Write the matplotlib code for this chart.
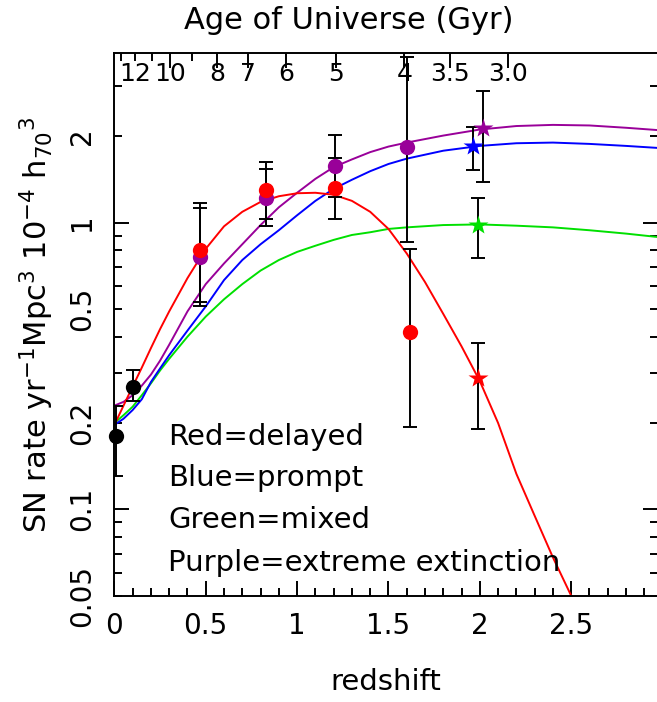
import numpy as np
import matplotlib.pyplot as plt
from matplotlib.ticker import FixedLocator, FixedFormatter, NullFormatter

# ---------- model curves (redshift, SN rate) ----------
z_model = [0.0, 0.05, 0.1, 0.15, 0.2, 0.25, 0.3, 0.4, 0.5, 0.6, 0.7, 0.8, 0.9,
           1.0, 1.1, 1.2, 1.3, 1.4, 1.5, 1.6, 1.8, 2.0, 2.2, 2.4, 2.6, 2.8, 2.975]
blue_rate = [0.197, 0.207, 0.222, 0.242, 0.278, 0.31, 0.345, 0.42, 0.51, 0.63, 0.74, 0.84, 0.94,
             1.06, 1.19, 1.31, 1.41, 1.51, 1.60, 1.67, 1.78, 1.85, 1.89, 1.90, 1.88, 1.85, 1.82]
green_rate = [0.20, 0.213, 0.228, 0.25, 0.275, 0.305, 0.335, 0.40, 0.47, 0.54, 0.61, 0.68, 0.74,
              0.79, 0.83, 0.87, 0.905, 0.925, 0.95, 0.962, 0.98, 0.985, 0.975, 0.962, 0.94, 0.915, 0.89]
purple_rate = [0.23, 0.237, 0.25, 0.27, 0.295, 0.33, 0.375, 0.49, 0.61, 0.72, 0.84, 0.98, 1.13,
               1.27, 1.42, 1.56, 1.66, 1.76, 1.84, 1.90, 2.01, 2.11, 2.17, 2.19, 2.18, 2.14, 2.10]

z_red = [0.0, 0.05, 0.1, 0.15, 0.2, 0.25, 0.3, 0.4, 0.5, 0.6, 0.7, 0.8, 0.9, 1.0, 1.1, 1.2,
         1.3, 1.4, 1.5, 1.6, 1.7, 1.8, 1.9, 2.0, 2.1, 2.2, 2.3, 2.4, 2.52]
red_rate = [0.197, 0.23, 0.268, 0.312, 0.365, 0.425, 0.49, 0.64, 0.81, 0.97, 1.09, 1.18, 1.235, 1.265,
            1.27, 1.25, 1.19, 1.09, 0.95, 0.78, 0.62, 0.48, 0.37, 0.28, 0.20, 0.133, 0.095, 0.068, 0.047]

# ---------- data points ----------
# local rates (black)
z_local = [0.01, 0.1]
rate_local = [0.18, 0.267]
lo_local = [0.131, 0.239]
hi_local = [0.229, 0.307]

# red = delayed
z_red_pts = [0.47, 0.83, 1.21, 1.62]
rate_red_pts = [0.80, 1.30, 1.32, 0.416]
lo_red_pts = [0.51, 1.03, 1.03, 0.194]
hi_red_pts = [1.17, 1.62, 1.68, 0.81]

# purple = extreme extinction
z_pur_pts = [0.47, 0.83, 1.21, 1.60]
rate_pur_pts = [0.76, 1.22, 1.57, 1.83]
lo_pur_pts = [0.53, 0.976, 1.23, 0.852]
hi_pur_pts = [1.12, 1.54, 2.02, 3.77]

# z ~ 2 stars
z_star = [1.99, 1.96, 1.99, 2.02]
rate_star = [0.286, 1.85, 0.984, 2.13]
lo_star = [0.19, 1.52, 0.753, 1.39]
hi_star = [0.38, 2.15, 1.215, 2.87]
star_colors = ['#ff0000', '#0000ff', '#00e000', '#990099']

# ---------- top axis: age of universe ----------
age_major = [10, 8, 7, 6, 5, 4, 3.5, 3.0]
age_minor = [13, 12, 11, 9]
age_labelled = [12, 10, 8, 7, 6, 5, 4, 3.5, 3.0]
age_labels = ['12', '10', '8', '7', '6', '5', '4', '3.5', '3.0']

legend_lines = ['Red=delayed', 'Blue=prompt', 'Green=mixed', 'Purple=extreme extinction']

y_major = [0.1, 1]
y_minor = [0.05, 0.06, 0.07, 0.08, 0.09, 0.2, 0.3, 0.4, 0.5, 0.6, 0.7, 0.8, 0.9, 2, 3]
y_minor_labels = ['0.05', '', '', '', '', '0.2', '', '', '0.5', '', '', '', '', '2', '']

RED, BLUE, GREEN, PURPLE = '#ff0000', '#0000ff', '#00e000', '#990099'


def age_to_z(t, h0=70.0, om=0.3):
    # flat LCDM, age in Gyr
    ol = 1.0 - om
    th = 977.8 / h0
    x = np.sinh(np.asarray(t) * 1.5 * np.sqrt(ol) / th)
    return (np.sqrt(ol / om) / x) ** (2.0 / 3.0) - 1.0


plt.rcParams['font.family'] = 'DejaVu Sans'
plt.rcParams['mathtext.fontset'] = 'dejavusans'

fig = plt.figure(figsize=(6.57, 7.02), dpi=100)
ax = fig.add_axes([0.1741, 0.1514, 0.8274, 0.7731])
ax.set_yscale('log')
ax.set_xlim(0, 2.975)
ax.set_ylim(0.05, 3.9)

lw = 1.4
ax.plot(z_model, green_rate, color=GREEN, lw=lw, zorder=2)
ax.plot(z_model, blue_rate, color=BLUE, lw=lw, zorder=2)
ax.plot(z_model, purple_rate, color=PURPLE, lw=lw, zorder=2)
ax.plot(z_red, red_rate, color=RED, lw=lw, zorder=2)


def err(rate, lo, hi):
    r = np.array(rate)
    return [r - np.array(lo), np.array(hi) - r]


eb = dict(fmt='none', ecolor='black', elinewidth=1.4, capsize=5, capthick=1.4, zorder=3)
ax.errorbar(z_local, rate_local, yerr=err(rate_local, lo_local, hi_local), **eb)
ax.errorbar(z_pur_pts, rate_pur_pts, yerr=err(rate_pur_pts, lo_pur_pts, hi_pur_pts), **eb)
ax.errorbar(z_red_pts, rate_red_pts, yerr=err(rate_red_pts, lo_red_pts, hi_red_pts), **eb)
ax.errorbar(z_star, rate_star, yerr=err(rate_star, lo_star, hi_star), **eb)

ax.plot(z_pur_pts, rate_pur_pts, 'o', color=PURPLE, ms=11, mec='none', zorder=4)
ax.plot(z_red_pts, rate_red_pts, 'o', color=RED, ms=11, mec='none', zorder=5)
ax.plot(z_local, rate_local, 'o', color='black', ms=11, mec='none', zorder=5, clip_on=False)
for z, r, c in zip(z_star, rate_star, star_colors):
    ax.plot(z, r, '*', color=c, ms=15, mec='none', zorder=5)

# ticks
ax.xaxis.set_major_locator(FixedLocator([0, 0.5, 1, 1.5, 2, 2.5]))
ax.xaxis.set_minor_locator(FixedLocator(np.arange(0.1, 2.95, 0.1)))
ax.set_xticklabels(['0', '0.5', '1', '1.5', '2', '2.5'])
ax.yaxis.set_major_locator(FixedLocator(y_major))
ax.yaxis.set_major_formatter(FixedFormatter(['0.1', '1']))
ax.yaxis.set_minor_locator(FixedLocator(y_minor))
ax.yaxis.set_minor_formatter(FixedFormatter(y_minor_labels))
ax.tick_params(which='both', direction='in', width=1.4, labelsize=20,
               top=False, right=True, colors='black')
ax.tick_params(which='major', length=11)
ax.tick_params(which='minor', length=6)
ax.tick_params(axis='x', which='both', pad=12)
ax.tick_params(axis='y', which='both', pad=13, labelrotation=90)
for lab in ax.get_yticklabels(which='both'):
    lab.set_va('center')
for s in ax.spines.values():
    s.set_linewidth(1.4)

# top age axis
ax2 = ax.twiny()
ax2.set_xlim(ax.get_xlim())
ax2.xaxis.set_major_locator(FixedLocator(age_to_z(age_major)))
ax2.xaxis.set_minor_locator(FixedLocator(age_to_z(age_minor)))
ax2.xaxis.set_major_formatter(NullFormatter())
ax2.tick_params(which='both', direction='in', width=1.4, top=True, bottom=False)
ax2.tick_params(which='major', length=11)
ax2.tick_params(which='minor', length=6)
for s in ax2.spines.values():
    s.set_visible(False)
for t, lab in zip(age_labelled, age_labels):
    ax.text(float(age_to_z(t)), 0.984, lab, transform=ax.get_xaxis_transform(),
            ha='center', va='top', fontsize=18)

fig.text(0.531, 0.9715, 'Age of Universe (Gyr)', ha='center', va='center', fontsize=22)
ax.set_xlabel('redshift', fontsize=21, labelpad=20)
ax.set_ylabel('SN rate yr$^{-1}$Mpc$^{3}$ 10$^{-4}$ h$_{70}$$^{3}$', fontsize=22)
ax.yaxis.set_label_coords(-0.107, 0.5)

for i, txt in enumerate(legend_lines):
    ax.text(0.0986, [0.2924, 0.2169, 0.1395, 0.0603][i], txt, transform=ax.transAxes,
            ha='left', va='center', fontsize=21)

fig.savefig('out.png', dpi=100)
